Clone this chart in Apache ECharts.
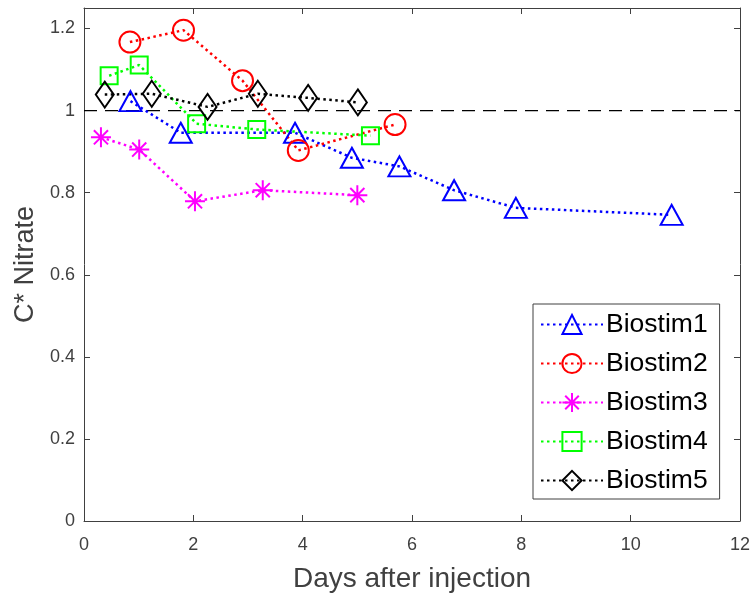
<!DOCTYPE html>
<html>
<head>
<meta charset="utf-8">
<script src="https://cdn.jsdelivr.net/npm/echarts@6/dist/echarts.min.js"></script>
<style>html,body{margin:0;padding:0;background:#fff}#c{width:753px;height:595px}</style>
</head>
<body>
<div id="c"></div>
<script>
const seriesNames = ['Biostim1', 'Biostim2', 'Biostim3', 'Biostim4', 'Biostim5'];
const b1x = [0.85, 1.77, 3.86, 4.90, 5.77, 6.77, 7.90, 10.75];
const b1y = [1.023, 0.946, 0.946, 0.885, 0.864, 0.806, 0.763, 0.746];
const b2x = [0.84, 1.82, 2.90, 3.92, 5.69];
const b2y = [1.167, 1.196, 1.073, 0.903, 0.966];
const b3x = [0.31, 1.01, 2.03, 3.27, 5.00];
const b3y = [0.935, 0.905, 0.779, 0.806, 0.794];
const b4x = [0.46, 1.01, 2.06, 3.16, 5.24];
const b4y = [1.085, 1.111, 0.968, 0.954, 0.939];
const b5x = [0.38, 1.24, 2.26, 3.18, 4.10, 5.01];
const b5y = [1.039, 1.041, 1.009, 1.041, 1.031, 1.020];
const refX = [0, 12];
const refY = [1, 1];
const xName = 'Days after injection';
const yName = 'C* Nitrate';

const pair = (xs, ys) => xs.map((x, i) => [x, ys[i]]);
const colors = ['#0000ff', '#ff0000', '#ff00ff', '#00ff00', '#000000'];
const symbols = ['triangle', 'circle',
  'path://M0,-10L0,10M-10,0L10,0M-7.07,-7.07L7.07,7.07M-7.07,7.07L7.07,-7.07',
  'rect', 'diamond'];
const sizes = [[22, 20], 21, 20, 17, [18, 26]];
const datas = [pair(b1x, b1y), pair(b2x, b2y), pair(b3x, b3y), pair(b4x, b4y), pair(b5x, b5y)];
const axisCol = '#404040';
const font = 'Liberation Sans, Arial, sans-serif';

const series = seriesNames.map((n, i) => ({
  name: n, type: 'line', data: datas[i], symbol: symbols[i], symbolSize: sizes[i],
  showAllSymbol: true,
  lineStyle: { color: colors[i], width: 2.5, type: [2.5, 3.5] },
  itemStyle: { color: 'rgba(255,255,255,0)', borderColor: colors[i], borderWidth: 2 },
  emphasis: { disabled: true }, z: 3
}));
series.unshift({
  name: 'ref', type: 'line', data: pair(refX, refY), symbol: 'none',
  lineStyle: { color: '#000', width: 1.3, type: [13, 8] }, z: 2, silent: true
});

const mkX = (pos, show) => ({
  type: 'value', min: 0, max: 12, interval: 2, position: pos,
  name: show ? xName : '', nameLocation: 'middle', nameGap: 44,
  nameTextStyle: { fontSize: 28, color: axisCol, fontFamily: font },
  axisLine: { show: true, onZero: false, lineStyle: { color: axisCol, width: 1 } },
  axisTick: { show: true, inside: true, length: 6, lineStyle: { color: axisCol } },
  axisLabel: { show: show, fontSize: 18, color: axisCol, fontFamily: font, margin: 15 },
  splitLine: { show: false }
});
const mkY = (pos, show) => ({
  type: 'value', min: 0, max: 1.25, interval: 0.2, position: pos,
  name: show ? yName : '', nameLocation: 'middle', nameGap: 44, nameRotate: 90,
  nameTextStyle: { fontSize: 27, color: axisCol, fontFamily: font },
  axisLine: { show: true, onZero: false, lineStyle: { color: axisCol, width: 1 } },
  axisTick: { show: true, inside: true, length: 6, lineStyle: { color: axisCol } },
  axisLabel: { show: show, fontSize: 18, color: axisCol, fontFamily: font, margin: 9,
    formatter: v => (v > 1.21 ? '' : String(+v.toFixed(2))) },
  splitLine: { show: false }
});

const chart = echarts.init(document.getElementById('c'), null, { renderer: 'canvas' });
chart.setOption({
  animation: false,
  backgroundColor: '#fff',
  grid: { left: 84, right: 13, top: 8, bottom: 74, containLabel: false, outerBoundsMode: 'none' },
  xAxis: [mkX('bottom', true), mkX('top', false)],
  yAxis: [mkY('left', true), mkY('right', false)],
  legend: {
    data: seriesNames, orient: 'vertical', left: 533, top: 304,
    backgroundColor: '#fff', borderColor: axisCol, borderWidth: 1,
    padding: [7, 12, 5, 7], itemGap: 12, itemWidth: 62, itemHeight: 24,
    textStyle: { fontSize: 26.5, color: '#000', fontFamily: font, padding: [0, 0, 0, -2] },
    selectedMode: false
  },
  series: series
});
</script>
</body>
</html>
